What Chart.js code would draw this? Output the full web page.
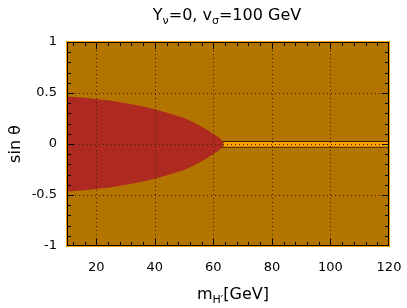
<!DOCTYPE html>
<html>
<head>
<meta charset="utf-8">
<script src="https://cdn.jsdelivr.net/npm/chart.js@4/dist/chart.umd.min.js"></script>
<style>
  html, body { margin: 0; padding: 0; background: #fff; }
  #wrap { width: 407px; height: 308px; }
</style>
</head>
<body>
<div id="wrap"><canvas id="c"></canvas></div>
<script>
// excluded region (red), upper edge; lower edge mirrored
const massRed = [10, 15, 20, 25, 30, 35, 40, 45, 50, 53, 56, 58, 60, 61, 62, 62.8, 63.2, 63.4];
const sinRedUp = [0.465, 0.455, 0.44, 0.425, 0.40, 0.375, 0.34, 0.30, 0.255, 0.215, 0.17, 0.137, 0.095, 0.08, 0.062, 0.04, 0.02, 0];

// allowed narrow band around sin θ = 0
const bandTop = 0.02;
const bandBottom = -0.028;
const bandSplit = 63.4;
const massMin = 10;
const massMax = 120;

const xTicks = [20, 40, 60, 80, 100, 120];
const yTicks = [-1, -0.5, 0, 0.5, 1];

const GOLD = '#b37400';
const RED = '#ae2a20';
const ORANGE = '#ffa200';
const RED_BAND = '#ec3a2e';

const redUpper = massRed.map((m, i) => ({ x: m, y: sinRedUp[i] }));
const redLower = massRed.map((m, i) => ({ x: m, y: -sinRedUp[i] }));

const line = (pts) => pts.map(p => ({ x: p[0], y: p[1] }));

const bgPlugin = {
  id: 'bg',
  beforeDatasetsDraw(chart) {
    const { ctx, chartArea: a } = chart;
    ctx.save();
    ctx.fillStyle = GOLD;
    ctx.fillRect(a.left, a.top, a.right - a.left, a.bottom - a.top);
    ctx.restore();
  }
};

const framePlugin = {
  id: 'frame',
  afterDatasetsDraw(chart) {
    const { ctx, chartArea: a, scales } = chart;
    const xs = scales.x, ys = scales.y;
    ctx.save();
    // dotted grid
    ctx.strokeStyle = '#3c2400';
    ctx.lineWidth = 1;
    ctx.setLineDash([1, 3]);
    xTicks.forEach(v => {
      if (v >= massMax) return;
      const px = Math.round(xs.getPixelForValue(v)) + 0.5;
      ctx.beginPath(); ctx.moveTo(px, a.top); ctx.lineTo(px, a.bottom); ctx.stroke();
    });
    yTicks.forEach(v => {
      if (v === 1 || v === -1) return;
      const py = Math.round(ys.getPixelForValue(v)) + 0.5;
      ctx.beginPath(); ctx.moveTo(a.left, py); ctx.lineTo(a.right, py); ctx.stroke();
    });
    ctx.setLineDash([]);

    // orange outer outline + black frame
    ctx.strokeStyle = '#ffa200';
    ctx.strokeRect(a.left - 0.5, a.top - 0.5, a.right - a.left + 1, a.bottom - a.top + 1);
    ctx.strokeStyle = '#000';
    ctx.strokeRect(a.left + 0.5, a.top + 0.5, a.right - a.left - 1, a.bottom - a.top - 1);

    // inward ticks, all four sides
    ctx.beginPath();
    for (let m = 12; m < massMax; m += 4) {
      const major = m % 20 === 0;
      const len = major ? 7 : 4;
      const px = Math.round(xs.getPixelForValue(m)) + 0.5;
      ctx.moveTo(px, a.bottom); ctx.lineTo(px, a.bottom - len);
      ctx.moveTo(px, a.top); ctx.lineTo(px, a.top + len);
    }
    for (let k = -9; k <= 9; k++) {
      const v = k / 10;
      const major = k % 5 === 0;
      const len = major ? 7 : 4;
      const py = Math.round(ys.getPixelForValue(v)) + 0.5;
      ctx.moveTo(a.left, py); ctx.lineTo(a.left + len, py);
      ctx.moveTo(a.right, py); ctx.lineTo(a.right - len, py);
    }
    ctx.stroke();

    // titles with subscripts
    ctx.fillStyle = '#000';
    ctx.textBaseline = 'alphabetic';
    const big = '16px "DejaVu Sans"';
    const small = '11px "DejaVu Sans"';
    const drawParts = (parts, cx, y) => {
      let w = 0;
      parts.forEach(p => { ctx.font = p[1] ? small : big; w += ctx.measureText(p[0]).width; });
      let x = cx - w / 2;
      parts.forEach(p => {
        ctx.font = p[1] ? small : big;
        ctx.textAlign = 'left';
        ctx.fillText(p[0], x, y + (p[1] ? 4 : 0));
        x += ctx.measureText(p[0]).width;
      });
    };
    drawParts([['Y', 0], ['ν', 1], ['=0, v', 0], ['σ', 1], ['=100 GeV', 0]], 227, 20);
    drawParts([['m', 0], ['H′', 1], ['[GeV]', 0]], 233, 299);

    ctx.translate(20, (a.top + a.bottom) / 2);
    ctx.rotate(-Math.PI / 2);
    ctx.font = big;
    ctx.textAlign = 'center';
    ctx.fillText('sin θ', 0, 0);
    ctx.restore();
  }
};

new Chart(document.getElementById('c'), {
  type: 'line',
  data: {
    datasets: [
      { data: redUpper, fill: '+1', backgroundColor: RED, borderWidth: 0, pointRadius: 0 },
      { data: redLower, fill: false, borderWidth: 0, pointRadius: 0 },
      { data: line([[bandSplit, bandTop], [massMax, bandTop]]), fill: '+1', backgroundColor: ORANGE, borderWidth: 0, pointRadius: 0 },
      { data: line([[bandSplit, bandBottom], [massMax, bandBottom]]), fill: false, borderWidth: 0, pointRadius: 0 },
      { data: line([[massMin, bandTop], [bandSplit, bandTop]]), fill: '+1', backgroundColor: RED_BAND, borderWidth: 0, pointRadius: 0 },
      { data: line([[massMin, bandBottom], [bandSplit, bandBottom]]), fill: false, borderWidth: 0, pointRadius: 0 },
      { data: line([[massMin, bandTop], [massMax, bandTop]]), fill: false, borderColor: '#1a0c00', borderWidth: 1.5, pointRadius: 0 },
      { data: line([[massMin, bandBottom], [massMax, bandBottom]]), fill: false, borderColor: '#1a0c00', borderWidth: 1.5, pointRadius: 0 }
    ]
  },
  options: {
    responsive: true,
    maintainAspectRatio: false,
    animation: false,
    layout: { padding: { top: 42, right: 18, left: 0, bottom: 0 } },
    plugins: { legend: { display: false }, tooltip: { enabled: false }, title: { display: false } },
    scales: {
      x: {
        type: 'linear',
        min: massMin,
        max: massMax,
        afterBuildTicks: (s) => { s.ticks = xTicks.map(v => ({ value: v })); },
        afterFit: (s) => { s.height = 62; s.paddingLeft = 0; s.paddingRight = 0; },
        grid: { display: false, drawTicks: false },
        border: { display: false },
        ticks: { color: '#000', font: { family: 'DejaVu Sans', size: 13 }, padding: 14, maxRotation: 0 }
      },
      y: {
        type: 'linear',
        min: -1,
        max: 1,
        afterBuildTicks: (s) => { s.ticks = yTicks.map(v => ({ value: v })); },
        afterFit: (s) => { s.width = 67; s.paddingTop = 0; s.paddingBottom = 0; },
        grid: { display: false, drawTicks: false },
        border: { display: false },
        ticks: { color: '#000', font: { family: 'DejaVu Sans', size: 13 }, padding: 10, callback: (v) => String(v) }
      }
    }
  },
  plugins: [bgPlugin, framePlugin]
});
</script>
</body>
</html>
